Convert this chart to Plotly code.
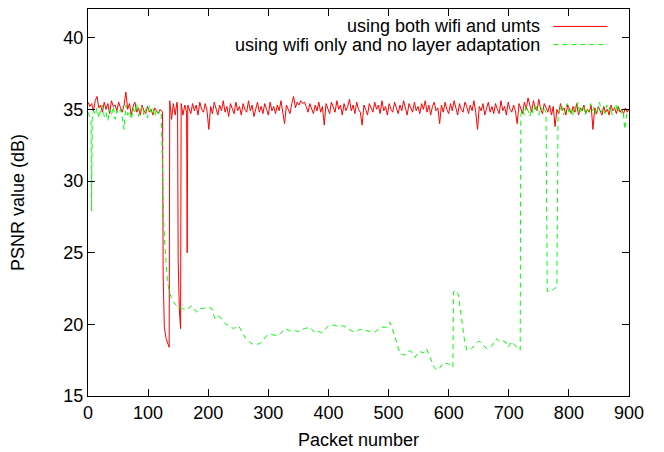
import plotly.graph_objects as go

# ---------------- data ----------------
x_tick_values = [0, 100, 200, 300, 400, 500, 600, 700, 800, 900]
y_tick_values = [15, 20, 25, 30, 35, 40]

series_names = ["using both wifi and umts",
                "using wifi only and no layer adaptation"]

# red series: "using both wifi and umts"
red_start_packets = list(range(0, 124, 3))
red_start_psnr = [35.5, 35.2, 35.4, 34.9, 35.6, 35.9, 35.1, 35.3, 34.8, 35.5,
                  35.0, 35.4, 34.7, 35.6, 35.2, 35.3, 34.9, 35.5, 35.1, 34.8,
                  35.3, 36.2, 35.0, 35.4, 34.6, 35.2, 35.5, 34.8, 35.1, 34.6,
                  35.3, 34.9, 34.7, 35.2, 34.8, 35.0, 34.6, 35.1, 34.9, 34.7,
                  35.0, 34.8]
red_drop_packets = [124, 125, 127, 130, 133, 135, 136, 139, 142, 145, 148,
                    149, 150, 152, 154, 155, 158, 161, 164, 165, 166]
red_drop_psnr = [34.8, 23.5, 19.8, 19.0, 18.7, 18.4, 35.6, 34.3, 35.4, 34.6,
                 35.5, 35.1, 24.5, 21.0, 19.7, 35.4, 34.6, 35.3, 34.8, 25.0,
                 35.3]
red_rest_packets = list(range(168, 901, 3))
red_rest_psnr = [35.1, 34.7, 35.4, 34.9, 35.3, 34.6, 35.5, 35.0, 34.8, 35.4,
                 34.9, 33.6, 35.2, 34.7, 35.5, 35.0, 34.6, 35.3, 34.9, 35.6,
                 34.8, 35.2, 34.5, 35.4, 35.0, 34.7, 35.5, 34.9, 35.2, 34.6,
                 35.4, 35.0, 34.8, 35.6, 34.9, 35.3, 34.5, 35.1, 35.5, 34.8,
                 35.2, 34.7, 35.4, 35.0, 34.6, 35.5, 34.9, 35.2, 34.7, 35.3,
                 34.9, 35.6, 34.8, 34.0, 35.3, 35.0, 34.7, 35.4, 35.9, 35.1,
                 35.5, 35.3, 35.6, 35.4, 35.5, 35.2, 34.8, 35.4, 35.0, 34.7,
                 35.3, 34.9, 35.5, 34.8, 35.2, 33.9, 35.4, 35.0, 34.7, 35.5,
                 35.1, 34.8, 35.6, 35.0, 35.3, 34.6, 35.4, 34.9, 35.2, 35.7,
                 34.9, 35.3, 34.7, 35.5, 35.0, 34.8, 33.9, 35.3, 35.0, 34.6,
                 35.4, 35.1, 34.8, 35.5, 35.0, 35.3, 34.7, 35.6, 34.9, 35.2,
                 34.6, 35.4, 35.0, 34.8, 35.5, 35.1, 34.7, 35.3, 34.9, 35.6,
                 35.0, 34.6, 35.4, 35.1, 34.8, 35.5, 34.9, 35.2, 34.7, 35.4,
                 35.0, 35.6, 34.8, 35.3, 34.6, 35.2, 35.5, 34.9, 35.1, 34.0,
                 35.3, 34.8, 35.5, 35.0, 34.7, 35.4, 34.9, 35.6, 35.1, 34.6,
                 35.4, 35.0, 34.8, 35.5, 35.2, 34.7, 35.3, 34.9, 35.6, 34.8,
                 33.6, 35.2, 34.9, 35.4, 34.6, 35.1, 35.5, 34.8, 35.2, 34.7,
                 35.4, 35.0, 34.7, 35.6, 34.9, 35.2, 34.6, 35.5, 35.0, 34.8,
                 35.3, 34.9, 34.0, 35.4, 35.1, 34.7, 35.5, 35.0, 35.8, 35.2,
                 34.8, 35.6, 35.1, 34.9, 35.7, 35.0, 34.7, 35.4, 35.1, 34.8,
                 35.3, 34.6, 35.2, 33.8, 35.0, 34.7, 35.4, 34.9, 35.1, 34.6,
                 35.3, 35.0, 34.7, 35.2, 34.8, 35.4, 34.6, 35.1, 34.9, 35.3,
                 34.7, 35.0, 34.8, 35.3, 33.6, 35.1, 34.7, 35.2, 34.9, 34.6,
                 35.2, 34.8, 35.0, 34.6, 35.3, 34.9, 35.1, 34.7, 35.2, 34.8,
                 35.0, 34.7, 35.1, 34.8, 35.0]

# green series: "using wifi only and no layer adaptation"
green_start_packets = [0, 3, 5, 6, 7, 9]
green_start_psnr = [34.8, 34.4, 34.2, 27.9, 34.3, 34.9]
green_noise1_packets = list(range(12, 121, 3))
green_noise1_psnr = [34.6, 35.1, 34.4, 34.9, 35.3, 34.5, 34.8, 34.2, 35.0, 34.6,
                     35.2, 34.3, 34.9, 34.7, 35.0, 34.4, 33.6, 35.3, 34.6, 34.9,
                     34.3, 35.1, 34.7, 35.4, 34.5, 34.9, 35.2, 34.6, 35.0, 34.4,
                     35.3, 34.8, 35.1, 34.5, 35.0, 34.7, 34.9]
green_fall_packets = [122, 124, 126, 128, 130, 132, 135, 139, 145, 150, 157,
                      164, 172, 177, 181, 187, 192, 199, 206, 211, 216, 220,
                      228, 235, 242, 250, 255, 261, 266, 272, 279, 286, 291,
                      297, 305, 314, 320, 328, 333, 339, 345, 350, 360, 369,
                      378, 384, 389, 395, 400, 408, 416, 425, 430, 436, 441,
                      447, 452, 458, 463, 469, 477, 486, 491, 497, 502, 507,
                      511, 515, 519, 523, 527, 532, 536, 540, 544, 549, 553,
                      558, 563, 567, 572, 576, 580, 585, 591, 596, 600, 605,
                      607, 608, 611, 616, 619, 622, 626, 630, 634, 638, 643,
                      649, 652, 658, 663, 668, 672, 676, 680, 684, 688, 694,
                      699, 702, 705, 709, 713, 719]
green_fall_psnr = [34.6, 30.5, 27.0, 25.4, 24.0, 23.1, 22.3, 21.8, 21.4, 21.2,
                   21.1, 21.0, 21.3, 21.0, 20.85, 21.1, 21.1, 21.2, 21.1, 20.4,
                   20.6, 20.5, 20.05, 19.9, 19.7, 19.9, 19.6, 19.1, 18.9, 18.65,
                   18.6, 18.65, 18.9, 19.2, 19.3, 19.2, 19.35, 19.7, 19.6, 19.5,
                   19.55, 19.5, 19.7, 19.8, 19.4, 19.5, 19.4, 19.7, 19.9, 19.95,
                   19.85, 19.9, 19.75, 19.6, 19.5, 19.5, 19.65, 19.6, 19.55, 19.5,
                   19.45, 19.75, 19.8, 19.8, 20.15, 19.6, 19.1, 18.5, 17.95, 17.9,
                   17.85, 18.1, 18.15, 18.0, 17.7, 18.0, 18.1, 18.0, 18.3, 17.9,
                   17.4, 17.0, 16.8, 16.95, 17.3, 17.3, 17.25, 17.0, 17.0, 22.25,
                   22.4, 22.1, 21.2, 20.3, 19.0, 18.2, 18.3, 18.3, 18.5, 18.8,
                   18.8, 18.5, 18.3, 18.35, 18.5, 18.8, 19.0, 18.8, 18.85, 18.8,
                   18.4, 18.6, 18.8, 18.6, 18.4, 18.2]
green_noise2_packets = list(range(720, 762, 3))
green_noise2_psnr = [34.6, 35.0, 34.6, 35.3, 34.8, 34.5, 35.1, 34.7, 35.4, 34.9,
                     34.6, 35.2, 34.8, 35.0]
green_notch_packets = [762, 764, 770, 776, 780, 782]
green_notch_psnr = [34.8, 22.3, 22.3, 22.5, 22.6, 34.6]
green_noise3_packets = list(range(785, 891, 3))
green_noise3_psnr = [34.9, 35.3, 34.6, 35.0, 35.4, 34.8, 35.1, 34.5, 35.2, 34.9,
                     35.5, 34.7, 35.0, 35.3, 34.6, 35.1, 34.8, 35.4, 34.9, 35.2,
                     34.6, 35.0, 35.5, 34.8, 35.1, 34.7, 35.3, 34.9, 35.2, 34.6,
                     35.0, 35.4, 34.8, 35.1, 34.7, 35.0]
green_tail_packets = [893, 896, 899]
green_tail_psnr = [33.6, 34.6, 35.0]

# ---------------- assemble ----------------
red_x = red_start_packets + red_drop_packets + red_rest_packets
red_y = red_start_psnr + red_drop_psnr + red_rest_psnr
green_x = (green_start_packets + green_noise1_packets + green_fall_packets +
           green_noise2_packets + green_notch_packets + green_noise3_packets +
           green_tail_packets)
green_y = (green_start_psnr + green_noise1_psnr + green_fall_psnr +
           green_noise2_psnr + green_notch_psnr + green_noise3_psnr +
           green_tail_psnr)

RED = "#ff0000"
GREEN = "#00ff00"
FONT = "Liberation Sans, Arial, Helvetica, sans-serif"

fig = go.Figure()
fig.add_trace(go.Scatter(x=red_x, y=red_y, mode="lines", name=series_names[0],
                         line=dict(color=RED, width=1)))
fig.add_trace(go.Scatter(x=green_x, y=green_y, mode="lines", name=series_names[1],
                         line=dict(color=GREEN, width=1, dash="5px,4px")))

# gnuplot-style key: right-aligned text with line sample on the right
key_rows = [(0.955, series_names[0], RED, "solid"),
            (0.908, series_names[1], GREEN, "5px,4px")]
for yk, txt, col, dsh in key_rows:
    fig.add_annotation(xref="paper", yref="paper", x=0.840, y=yk, text=txt,
                       showarrow=False, xanchor="right", yanchor="middle",
                       font=dict(family=FONT, size=18, color="black"))
    fig.add_shape(type="line", xref="paper", yref="paper",
                  x0=0.860, x1=0.960, y0=yk, y1=yk,
                  line=dict(color=col, width=1, dash=dsh))

# the page body adds an 8px offset, so the figure is 8px smaller on each side
fig.update_layout(
    width=656, height=444,
    margin=dict(l=80, r=35, t=1, b=56),
    paper_bgcolor="white", plot_bgcolor="white",
    showlegend=False,
    font=dict(family=FONT, size=18, color="black"),
)
fig.update_xaxes(range=[0, 900], tickvals=x_tick_values,
                 ticks="inside", ticklen=7, tickwidth=1, tickcolor="black",
                 showline=True, linecolor="black", linewidth=1, mirror="ticks",
                 showgrid=False, zeroline=False,
                 title=dict(text="Packet number", standoff=11,
                            font=dict(size=18)))
fig.update_yaxes(range=[15, 42], tickvals=y_tick_values,
                 ticks="inside", ticklen=7, tickwidth=1, tickcolor="black",
                 showline=True, linecolor="black", linewidth=1, mirror="ticks",
                 showgrid=False, zeroline=False,
                 title=dict(text="PSNR value (dB)", standoff=36,
                            font=dict(size=18)))

fig.write_html("out.html")
